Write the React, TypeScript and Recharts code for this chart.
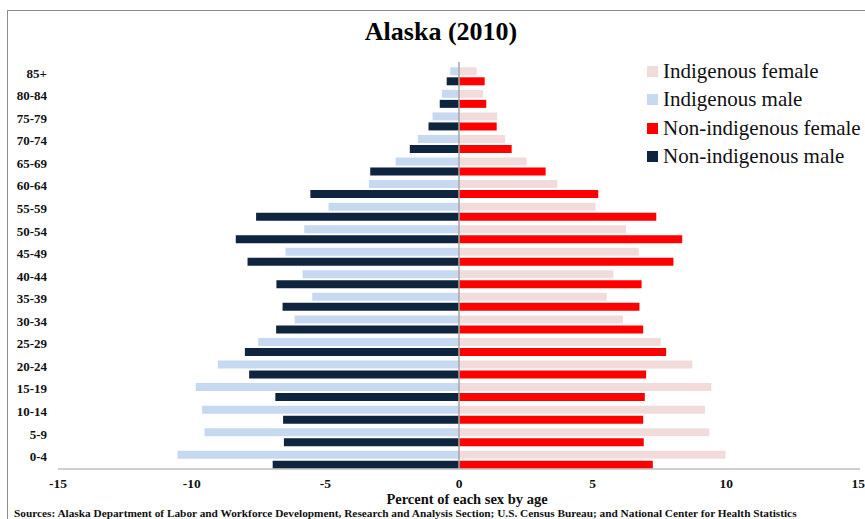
import React from 'react';
import {
    Bar,
    BarChart,
    Legend,
    ReferenceLine,
    XAxis,
    YAxis,
} from 'recharts';

// Alaska 2010 population pyramid, percent of each sex by age group.
// Male values are negative so they extend to the left of zero.
const ageGroups = [
    '0-4', '5-9', '10-14', '15-19', '20-24', '25-29', '30-34', '35-39', '40-44',
    '45-49', '50-54', '55-59', '60-64', '65-69', '70-74', '75-79', '80-84', '85+',
];

const indigenousFemale = [
    9.97, 9.37, 9.2, 9.44, 8.73, 7.55, 6.13, 5.53, 5.78,
    6.72, 6.25, 5.11, 3.68, 2.53, 1.72, 1.43, 0.9, 0.66,
];
const indigenousMale = [
    -10.53, -9.52, -9.61, -9.85, -9.02, -7.51, -6.15, -5.49, -5.85,
    -6.49, -5.79, -4.88, -3.37, -2.37, -1.54, -0.99, -0.64, -0.33,
];
const nonIndigenousFemale = [
    7.25, 6.91, 6.89, 6.95, 7.0, 7.75, 6.89, 6.75, 6.83,
    8.02, 8.35, 7.38, 5.21, 3.24, 1.97, 1.41, 1.02, 0.96,
];
const nonIndigenousMale = [
    -6.97, -6.55, -6.58, -6.87, -7.85, -8.01, -6.84, -6.6, -6.83,
    -7.91, -8.35, -7.59, -5.56, -3.32, -1.84, -1.14, -0.72, -0.46,
];

const xTicks = [-15, -10, -5, 0, 5, 10, 15];

const data = ageGroups.map((age, i) => ({
    age,
    indFemale: indigenousFemale[i],
    indMale: indigenousMale[i],
    nonFemale: nonIndigenousFemale[i],
    nonMale: nonIndigenousMale[i],
}));

const serif = '"Liberation Serif", "Times New Roman", serif';

function LegendList(props: any) {
    const { payload } = props;
    return (
        <div style={{ fontFamily: serif, fontSize: 21, color: '#111' }}>
            {payload.map((entry: any) => (
                <div
                    key={entry.value}
                    style={{ display: 'flex', alignItems: 'center', height: 28.5 }}
                >
                    <span
                        style={{
                            display: 'inline-block',
                            width: 11,
                            height: 11,
                            background: entry.color,
                            marginRight: 5,
                        }}
                    />
                    <span>{entry.value}</span>
                </div>
            ))}
        </div>
    );
}

export default function App() {
    return (
        <div
            style={{
                position: 'absolute',
                left: 0,
                top: 0,
                width: 865,
                height: 519,
                overflow: 'hidden',
                background: '#fff',
            }}
        >
            {/* chart frame, runs off the right and bottom edge like the source image */}
            <div
                style={{
                    position: 'absolute',
                    left: 7,
                    top: 10,
                    width: 900,
                    height: 600,
                    border: '1px solid #8c8c8c',
                }}
            />
            <div
                style={{
                    position: 'absolute',
                    left: 241,
                    top: 17,
                    width: 400,
                    textAlign: 'center',
                    fontFamily: serif,
                    fontWeight: 'bold',
                    fontSize: 26,
                    lineHeight: '30px',
                    color: '#000',
                }}
            >
                Alaska (2010)
            </div>
            <BarChart
                width={865}
                height={519}
                data={data}
                layout="vertical"
                stackOffset="sign"
                barSize={8}
                barGap={2}
                margin={{ top: 62, right: 5, left: 0, bottom: 0 }}
                style={{ position: 'absolute', left: 0, top: 0 }}
            >
                <XAxis
                    type="number"
                    domain={[-15, 15]}
                    ticks={xTicks}
                    height={50}
                    tickLine={false}
                    tickMargin={3}
                    axisLine={{ stroke: '#bfbfbf', strokeWidth: 1.5 }}
                    tick={{ fontFamily: serif, fontSize: 13.5, fontWeight: 'bold', fill: '#111' }}
                    label={{
                        value: 'Percent of each sex by age',
                        position: 'insideBottom',
                        offset: 15,
                        dx: 8,
                        style: { fontFamily: serif, fontSize: 14.5, fontWeight: 'bold', fill: '#111' },
                    }}
                />
                <YAxis
                    type="category"
                    dataKey="age"
                    reversed
                    width={58}
                    padding={{ top: 3.3, bottom: -2.3 }}
                    axisLine={false}
                    tickLine={false}
                    tickMargin={5}
                    interval={0}
                    tick={{ fontFamily: serif, fontSize: 13, fontWeight: 'bold', fill: '#111', dy: -3.5 }}
                />
                <Legend
                    layout="vertical"
                    align="center"
                    verticalAlign="middle"
                    content={LegendList}
                    wrapperStyle={{ left: 647, top: 57, width: 220 }}
                />
                <Bar dataKey="indFemale" name="Indigenous female" stackId="ind" fill="#f2dcdb" isAnimationActive={false} />
                <Bar dataKey="indMale" name="Indigenous male" stackId="ind" fill="#c6d9f1" isAnimationActive={false} />
                <Bar dataKey="nonFemale" name="Non-indigenous female" stackId="non" fill="#ff0000" isAnimationActive={false} />
                <Bar dataKey="nonMale" name="Non-indigenous male" stackId="non" fill="#0f243e" isAnimationActive={false} />
                <ReferenceLine x={0} stroke="#a6a6a6" strokeWidth={1.5} />
            </BarChart>
            <div
                style={{
                    position: 'absolute',
                    left: 14,
                    top: 507,
                    fontFamily: serif,
                    fontWeight: 'bold',
                    fontSize: 11.3,
                    lineHeight: '12px',
                    color: '#111',
                    whiteSpace: 'nowrap',
                }}
            >
                Sources: Alaska Department of Labor and Workforce Development, Research and Analysis Section; U.S. Census Bureau; and National Center for Health Statistics
            </div>
        </div>
    );
}
